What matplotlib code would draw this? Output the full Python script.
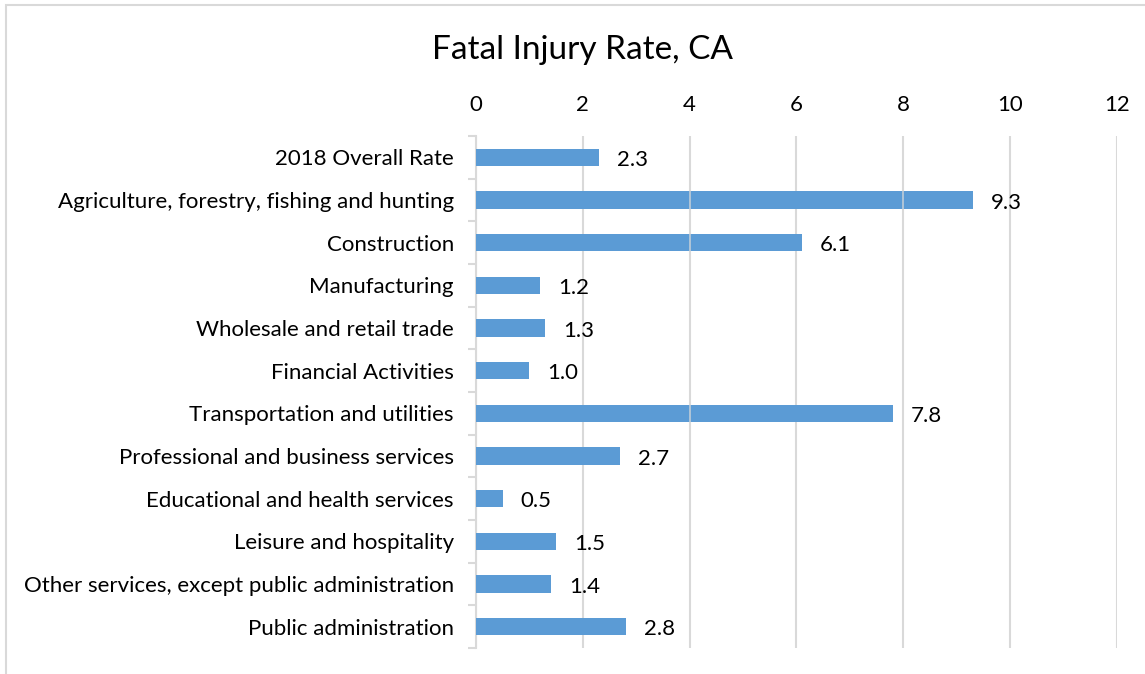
import matplotlib
matplotlib.use("Agg")
import matplotlib.pyplot as plt
from matplotlib.patches import Rectangle

categories = [
    "2018 Overall Rate",
    "Agriculture, forestry, fishing and hunting",
    "Construction",
    "Manufacturing",
    "Wholesale and retail trade",
    "Financial Activities",
    "Transportation and utilities",
    "Professional and business services",
    "Educational and health services",
    "Leisure and hospitality",
    "Other services, except public administration",
    "Public administration",
]
rates = [2.3, 9.3, 6.1, 1.2, 1.3, 1.0, 7.8, 2.7, 0.5, 1.5, 1.4, 2.8]
x_ticks = [0, 2, 4, 6, 8, 10, 12]

plt.rcParams["font.family"] = ["Lato", "DejaVu Sans"]
grid_col = "#d9d9d9"

fig = plt.figure(figsize=(11.45, 6.74), dpi=100)
ax = fig.add_axes([0.4157, 0.0386, 0.5598, 0.7596])

ypos = list(range(len(categories)))
ax.barh(ypos, rates, height=0.4, color="#5b9bd5", zorder=3)

# data labels
for y, v in zip(ypos, rates):
    ax.annotate(f"{v:.1f}", (v, y), xytext=(13, -2), textcoords="offset points",
                va="center", ha="left", fontsize=16, color="black")

ax.set_xlim(0, 12)
ax.set_ylim(len(categories) - 0.5, -0.5)
ax.set_xticks(x_ticks)
ax.xaxis.tick_top()
ax.tick_params(axis="x", length=0, labelsize=16, pad=15)
ax.grid(axis="x", color=grid_col, linewidth=1.5, zorder=0)
# in the original, the 4 and 8 gridlines show faintly through the bars
for gx in (4, 8):
    ax.axvline(gx, color=grid_col, linewidth=1.2, alpha=0.8, zorder=4)

ax.set_yticks(ypos)
ax.set_yticklabels(categories, fontsize=16)
ax.set_yticks([i - 0.5 for i in range(len(categories) + 1)], minor=True)
ax.tick_params(axis="y", which="major", length=0, pad=16)
ax.tick_params(axis="y", which="minor", length=6, width=1.5, color=grid_col, direction="out")

for s in ["top", "right", "bottom"]:
    ax.spines[s].set_visible(False)
ax.spines["left"].set_color(grid_col)
ax.spines["left"].set_linewidth(1.5)

fig.text(0.509, 0.926, "Fatal Injury Rate, CA", ha="center", va="center", fontsize=24)

# chart border
fig.patches.append(Rectangle((6 / 1145, -0.01), 1.2, 1 - 5 / 674 + 0.01,
                             transform=fig.transFigure, fill=False,
                             edgecolor=grid_col, linewidth=1.5))

fig.savefig("out.png", dpi=100)
